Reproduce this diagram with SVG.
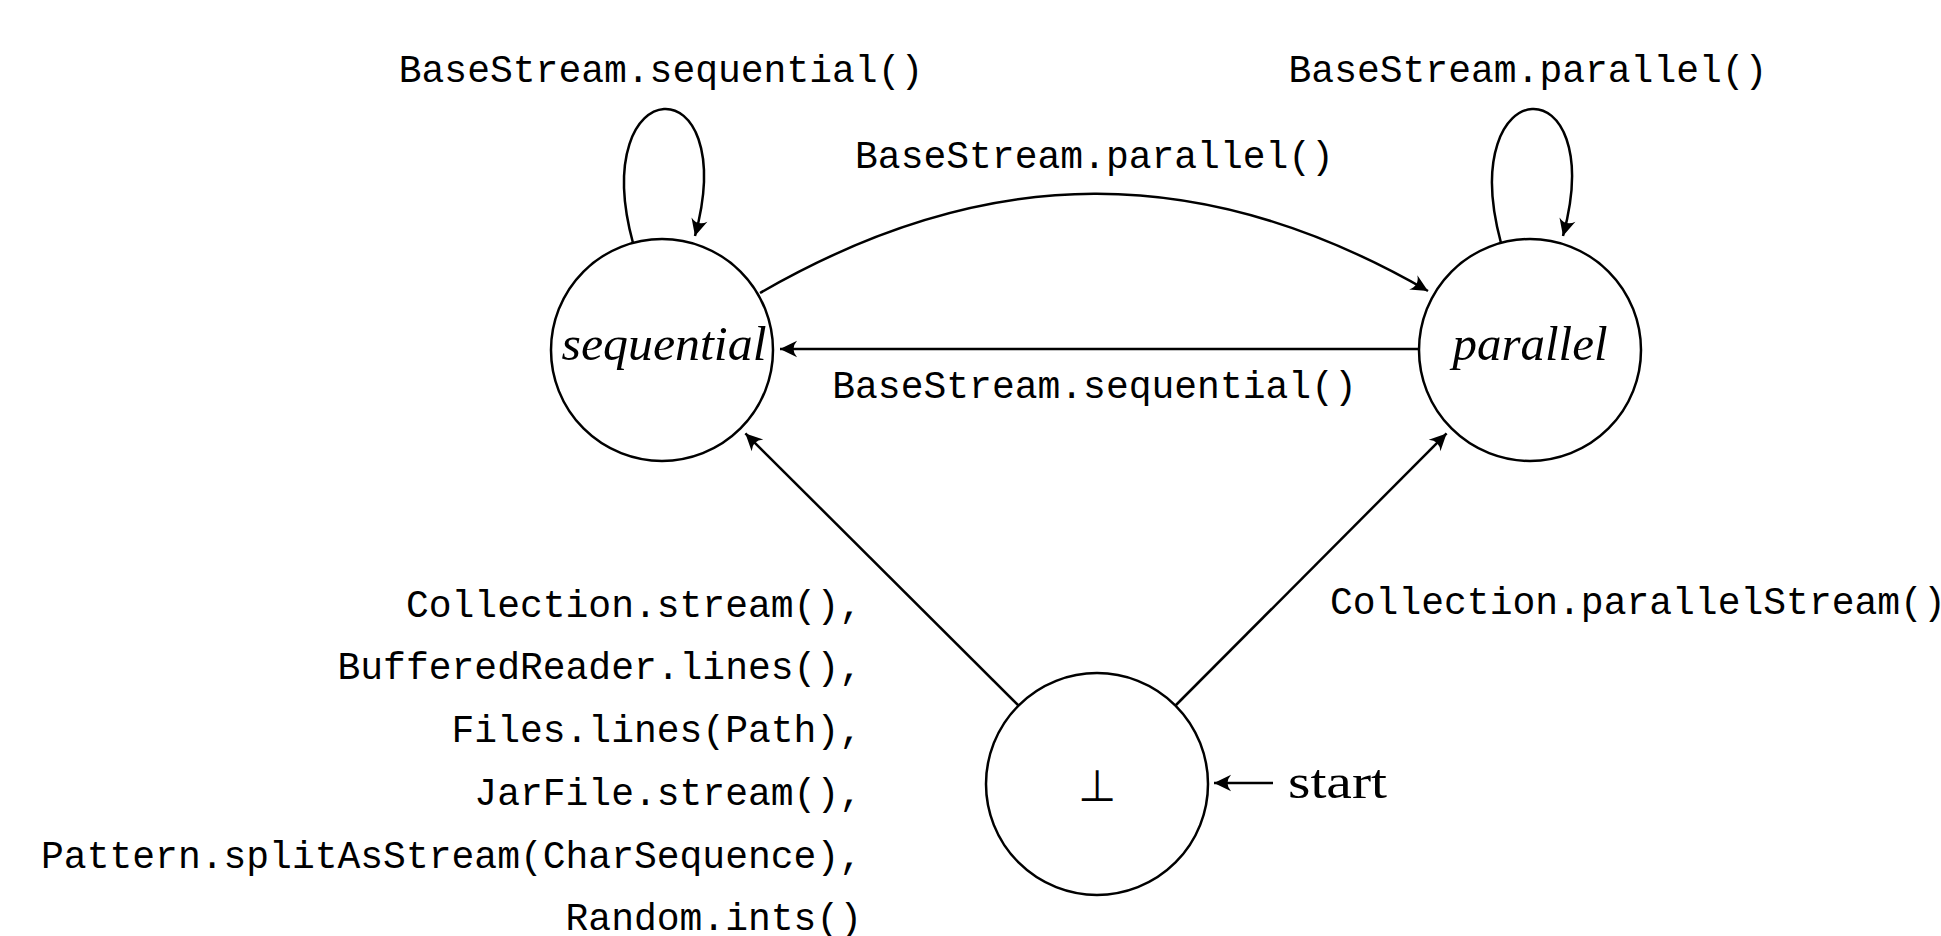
<svg xmlns="http://www.w3.org/2000/svg" width="1941" height="936" viewBox="0 0 1941 936">
  <style>
    .bg { fill: #ffffff; }
    .state { fill: none; stroke: #000; stroke-width: 2.5; }
    .edge { fill: none; stroke: #000; stroke-width: 2.5; }
    .mono { font-family: "Liberation Mono", "Courier New", monospace; font-size: 38px; fill: #000; }
    .name { font-family: "Liberation Serif", "Times New Roman", serif; font-style: italic; font-size: 49px; fill: #000; }
    .roman { font-family: "Liberation Serif", "Times New Roman", serif; font-size: 48px; fill: #000; }
    .bot { font-family: "DejaVu Sans", sans-serif; font-weight: 200; font-size: 44px; fill: #000; }
  </style>
  <defs>
    <marker id="arr" markerUnits="userSpaceOnUse" markerWidth="22" markerHeight="22" viewBox="-18 -9 20 18" refX="0" refY="0" orient="auto">
      <path d="M0,0 L-15.5,-7.5 Q-9,0 -15.5,7.5 Z" fill="#000"/>
    </marker>
  </defs>
  <rect class="bg" x="0" y="0" width="1941" height="936"/>

  <g id="connectors">
    <path id="e-seq-loop" class="edge" d="M633,243 C586,69 742,62 695,236" marker-end="url(#arr)"/>
    <path id="e-par-loop" class="edge" d="M1501,243 C1454,69 1610,62 1563,236" marker-end="url(#arr)"/>
    <path id="e-seq-par" class="edge" d="M760,293 C986.5,162 1201.5,160 1428,291" marker-end="url(#arr)"/>
    <path id="e-par-seq" class="edge" d="M1419,349 L780,349" marker-end="url(#arr)"/>
    <path id="e-bot-seq" class="edge" d="M1018.5,705.5 L745.4,433.4" marker-end="url(#arr)"/>
    <path id="e-bot-par" class="edge" d="M1175.5,705.5 L1446.6,433.4" marker-end="url(#arr)"/>
    <path id="e-start" class="edge" d="M1273,783 L1214,783" marker-end="url(#arr)"/>

    <text class="mono" x="661" y="82" text-anchor="middle">BaseStream.sequential()</text>
    <text class="mono" x="1528" y="82" text-anchor="middle">BaseStream.parallel()</text>
    <text class="mono" x="1094.5" y="168" text-anchor="middle">BaseStream.parallel()</text>
    <text class="mono" x="1094.5" y="398" text-anchor="middle">BaseStream.sequential()</text>
    <g class="mono" text-anchor="end">
      <text x="862" y="616.5">Collection.stream(),</text>
      <text x="862" y="679.3">BufferedReader.lines(),</text>
      <text x="862" y="742.1">Files.lines(Path),</text>
      <text x="862" y="804.9">JarFile.stream(),</text>
      <text x="862" y="867.7">Pattern.splitAsStream(CharSequence),</text>
      <text x="862" y="929.5">Random.ints()</text>
    </g>
    <text class="mono" x="1330" y="614">Collection.parallelStream()</text>
    <text class="roman" x="1288" y="798" textLength="99" lengthAdjust="spacingAndGlyphs">start</text>
  </g>

  <g id="node-sequential">
    <circle class="state" cx="662" cy="350" r="111"/>
    <text class="name" x="664" y="360" text-anchor="middle" textLength="205" lengthAdjust="spacingAndGlyphs">sequential</text>
  </g>
  <g id="node-parallel">
    <circle class="state" cx="1530" cy="350" r="111"/>
    <text class="name" x="1530" y="360" text-anchor="middle" textLength="155" lengthAdjust="spacingAndGlyphs">parallel</text>
  </g>
  <g id="node-bottom">
    <circle class="state" cx="1097" cy="784" r="111"/>
    <text class="bot" x="1097" y="801" text-anchor="middle">⊥</text>
  </g>
</svg>
